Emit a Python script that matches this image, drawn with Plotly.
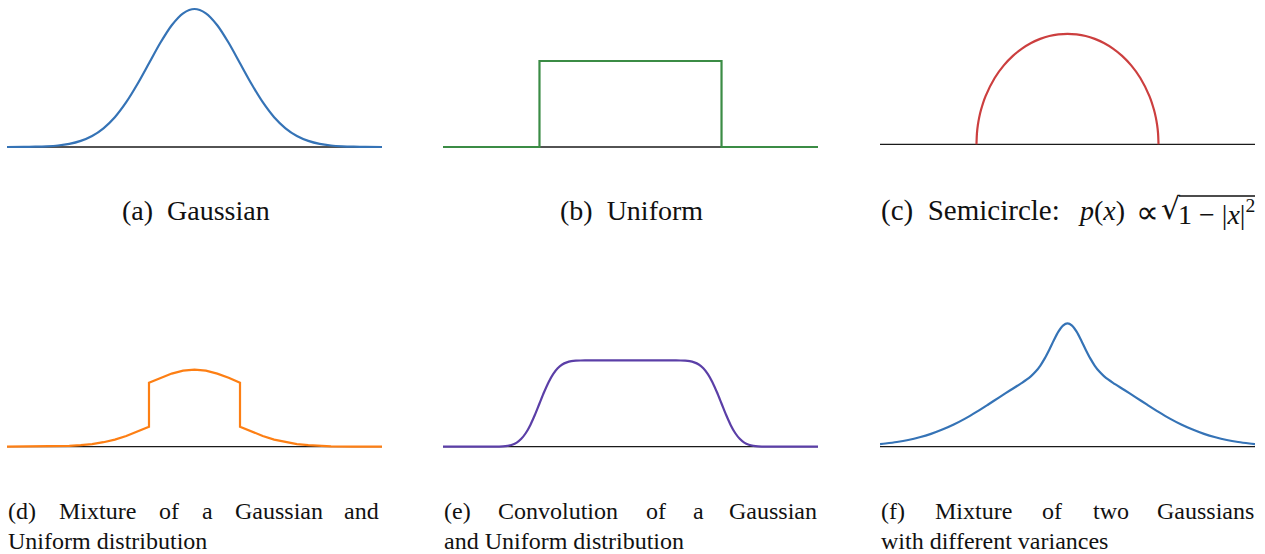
"""
Six reference densities: Gaussian, uniform, semicircle and three mixtures.
Heights are in screen pixels above the baseline, x in units of one std-dev.
"""

import plotly.graph_objects as go

W, H = 1265, 554
X_LIM = 4.12

# (a) Gaussian
gauss_x = [-4.12, -3.75, -3.5, -3.25, -3.0, -2.75, -2.5, -2.25, -2.0, -1.75, -1.5, -1.25, -1.0,
           -0.75, -0.5, -0.25, 0.0, 0.25, 0.5, 0.75, 1.0, 1.25, 1.5, 1.75, 2.0, 2.25, 2.5,
           2.75, 3.0, 3.25, 3.5, 3.75, 4.12]
gauss_y = [0.0, 0.1, 0.3, 0.7, 1.5, 3.1, 6.1, 11.0, 18.7, 29.8, 44.8, 63.2, 83.7,
           104.2, 121.8, 133.7, 138.0, 133.7, 121.8, 104.2, 83.7, 63.2, 44.8, 29.8, 18.7, 11.0, 6.1,
           3.1, 1.5, 0.7, 0.3, 0.1, 0.0]

# (b) Uniform
unif_x = [-4.12, -2.0, -2.0, 2.0, 2.0, 4.12]
unif_y = [0.0, 0.0, 86.0, 86.0, 0.0, 0.0]

# (c) Semicircle
semi_x = [-2.0, -1.99, -1.97, -1.94, -1.9, -1.8, -1.6, -1.4, -1.2, -1.0, -0.8, -0.6, -0.4, -0.2,
          0.0, 0.2, 0.4, 0.6, 0.8, 1.0, 1.2, 1.4, 1.6, 1.8, 1.9, 1.94, 1.97, 1.99, 2.0]
semi_y = [0.0, 11.0, 19.1, 26.9, 34.5, 48.2, 66.3, 78.9, 88.4, 95.7, 101.3, 105.4, 108.3, 109.9,
          110.5, 109.9, 108.3, 105.4, 101.3, 95.7, 88.4, 78.9, 66.3, 48.2, 34.5, 26.9, 19.1, 11.0, 0.0]

# (d) Gaussian + uniform mixture
mixu_x = [-4.12, -3.5, -3.0, -2.75, -2.5, -2.25, -2.0, -1.75, -1.5, -1.25, -1.0, -1.0, -0.75, -0.5,
          -0.25, 0.0, 0.25, 0.5, 0.75, 1.0, 1.0, 1.25, 1.5, 1.75, 2.0, 2.25, 2.5, 2.75, 3.0, 3.5, 4.12]
mixu_y = [0.0, 0.1, 0.4, 0.8, 1.5, 2.6, 4.5, 7.1, 10.7, 15.1, 20.0, 64.0, 68.9, 73.1,
          76.0, 77.0, 76.0, 73.1, 68.9, 64.0, 20.0, 15.1, 10.7, 7.1, 4.5, 2.6, 1.5, 0.8, 0.4, 0.1, 0.0]

# (e) Gaussian convolved with uniform
conv_x = [-4.12, -3.0, -2.9, -2.8, -2.7, -2.6, -2.5, -2.4, -2.3, -2.2, -2.1, -2.0, -1.9, -1.8, -1.7,
          -1.6, -1.5, -1.4, -1.3, -1.2, -1.1, -1.0, 1.0, 1.1, 1.2, 1.3, 1.4, 1.5, 1.6, 1.7, 1.8,
          1.9, 2.0, 2.1, 2.2, 2.3, 2.4, 2.5, 2.6, 2.7, 2.8, 2.9, 3.0, 4.12]
conv_y = [0.0, 0.0, 0.1, 0.3, 0.9, 2.0, 4.1, 7.9, 13.7, 21.8, 31.9, 43.2, 54.4, 64.5, 72.6,
          78.4, 82.2, 84.3, 85.5, 86.0, 86.2, 86.3, 86.3, 86.2, 86.0, 85.5, 84.3, 82.2, 78.4, 72.6, 64.5,
          54.4, 43.2, 31.9, 21.8, 13.7, 7.9, 4.1, 2.0, 0.9, 0.3, 0.1, 0.0, 0.0]

# (f) two Gaussians, wide + narrow
mix2_x = [-4.12, -4.0, -3.75, -3.5, -3.25, -3.0, -2.75, -2.5, -2.25, -2.0, -1.75, -1.5, -1.25, -1.0,
          -0.9, -0.8, -0.7, -0.6, -0.5, -0.4, -0.3, -0.2, -0.1, 0.0, 0.1, 0.2, 0.3, 0.4, 0.5, 0.6,
          0.7, 0.8, 0.9, 1.0, 1.25, 1.5, 1.75, 2.0, 2.25, 2.5, 2.75, 3.0, 3.25, 3.5, 3.75, 4.0, 4.12]
mix2_y = [2.6, 3.2, 4.7, 6.7, 9.4, 12.8, 17.1, 22.2, 28.1, 34.8, 42.0, 49.4, 56.7, 63.9,
          67.0, 70.6, 75.1, 80.9, 88.3, 97.0, 106.4, 115.0, 121.1, 123.3, 121.1, 115.0, 106.4, 97.0, 88.3, 80.9,
          75.1, 70.6, 67.0, 63.9, 56.7, 49.4, 42.0, 34.8, 28.1, 22.2, 17.1, 12.8, 9.4, 6.7, 4.7, 3.2, 2.6]

# captions of the bottom row: justified first line, ragged second line
cap_d = ("(d) Mixture of a Gaussian and", "Uniform distribution")
cap_e = ("(e) Convolution of a Gaussian", "and Uniform distribution")
cap_f = ("(f) Mixture of two Gaussians", "with different variances")

BLUE, GREEN, RED = "#3573b6", "#3b8c45", "#cc3f3f"
ORANGE, PURPLE = "#fd7f14", "#5b3fa7"
SERIF = "Liberation Serif, Times New Roman, serif"
TXT = "#111111"
TOP_SIZE, BOT_SIZE = 28, 24

# panel left/right edges and baseline row, in pixels
panels = [
    dict(x=gauss_x, y=gauss_y, color=BLUE, left=7, right=382, base=147.0, shape="spline"),
    dict(x=unif_x, y=unif_y, color=GREEN, left=443, right=818, base=147.0, shape="linear"),
    dict(x=semi_x, y=semi_y, color=RED, left=880, right=1255, base=144.3, shape="spline"),
    dict(x=mixu_x, y=mixu_y, color=ORANGE, left=7, right=382, base=446.7, shape="linear"),
    dict(x=conv_x, y=conv_y, color=PURPLE, left=443, right=818, base=446.7, shape="spline"),
    dict(x=mix2_x, y=mix2_y, color=BLUE, left=880, right=1255, base=446.7, shape="spline"),
]

fig = go.Figure()
layout = {}

for i, p in enumerate(panels, start=1):
    sfx = "" if i == 1 else str(i)
    top_px = p["base"] - 144
    bot_px = p["base"] + 14
    layout["xaxis" + sfx] = dict(
        domain=[p["left"] / W, p["right"] / W], range=[-X_LIM, X_LIM],
        visible=False, fixedrange=True, anchor="y" + sfx,
    )
    layout["yaxis" + sfx] = dict(
        domain=[1 - bot_px / H, 1 - top_px / H], range=[-14, 144],
        visible=False, fixedrange=True, anchor="x" + sfx,
    )
    # black baseline
    fig.add_trace(go.Scatter(
        x=[-X_LIM, X_LIM], y=[0, 0], mode="lines",
        line=dict(color="#1a1a1a", width=1.3),
        xaxis="x" + sfx, yaxis="y" + sfx, hoverinfo="skip",
    ))
    line = dict(color=p["color"], width=2.2, shape=p["shape"])
    if p["shape"] == "spline":
        line["smoothing"] = 0.8
    fig.add_trace(go.Scatter(
        x=p["x"], y=p["y"], mode="lines", line=line,
        xaxis="x" + sfx, yaxis="y" + sfx,
    ))


def note(text, x_px, y_px, anchor="center", size=BOT_SIZE, family=SERIF):
    fig.add_annotation(
        text=text, x=x_px / W, y=1 - y_px / H, xref="paper", yref="paper",
        xanchor=anchor, yanchor="middle", showarrow=False, borderpad=0,
        font=dict(family=family, size=size, color=TXT),
    )


# Liberation Serif shares Times advance widths (per 1000 em)
TIMES = {"(": 333, ")": 333, "a": 444, "b": 500, "c": 444, "d": 500, "e": 444, "f": 333,
         "h": 500, "i": 278, "l": 278, "m": 778, "n": 500, "o": 500, "r": 333, "s": 389,
         "t": 278, "u": 500, "v": 500, "w": 722, "x": 500, "C": 667, "G": 722, "M": 889}


def word_width(word, size):
    return sum(TIMES.get(ch, 500) for ch in word) * size / 1000


def justify(text, left, right, y_px):
    words = text.split()
    widths = [word_width(w, BOT_SIZE) for w in words]
    gap = (right - left - sum(widths)) / (len(words) - 1)
    x = left
    for w, wd in zip(words[:-1], widths[:-1]):
        note(w, x, y_px, "left")
        x += wd + gap
    note(words[-1], right, y_px, "right")


# first row captions
note("(a)\u00a0 Gaussian", 196, 211, size=TOP_SIZE)
note("(b)\u00a0 Uniform", 631, 211, size=TOP_SIZE)
note("(c)\u00a0 Semicircle:", 880, 211, "left", size=29)
note("<i>p</i>(<i>x</i>)", 1077, 211, "left", size=TOP_SIZE)
note("\u221d", 1147, 212, size=32)
note("\u221a", 1171, 208, size=30, family="DejaVu Serif")
note("1\u00a0\u2212\u00a0|<i>x</i>|<sup>2</sup>", 1256, 212, "right", size=TOP_SIZE)
fig.add_shape(type="line", xref="paper", yref="paper",
              x0=1179 / W, x1=1255 / W, y0=1 - 196 / H, y1=1 - 196 / H,
              line=dict(color=TXT, width=1.3))

# second row captions
for (first, second), (left, right) in zip([cap_d, cap_e, cap_f], [(7, 380), (443, 818), (880, 1255)]):
    justify(first, left, right, 511)
    note(second, left, 541, "left")

fig.update_layout(
    width=W, height=H,
    margin=dict(l=0, r=0, t=0, b=0),
    paper_bgcolor="white", plot_bgcolor="white",
    showlegend=False,
    **layout,
)

fig.write_html("out.html", config={"displayModeBar": False},
               post_script="document.body.style.margin='0';")
